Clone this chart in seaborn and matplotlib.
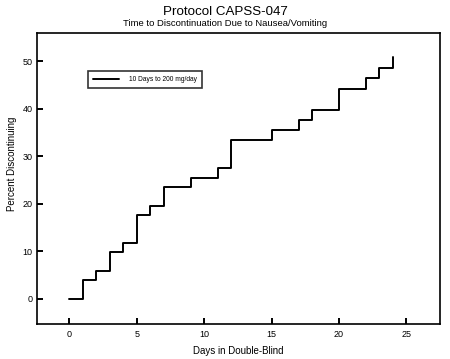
import matplotlib
matplotlib.use("Agg")
import matplotlib.pyplot as plt
import numpy as np
import pandas as pd
import seaborn as sns

# step data
days = [0, 1, 2, 3, 4, 5, 6, 7, 9, 11, 12, 15, 17, 18, 20, 22, 23, 24]
pct = [0, 3.9, 5.9, 9.8, 11.8, 17.6, 19.6, 23.5, 25.5, 27.5, 33.4, 35.5,
       37.6, 39.8, 44.2, 46.4, 48.6, 50.8]
series_name = "10 Days to 200 mg/day"

df = pd.DataFrame({"day": days, "pct": pct, "group": series_name})

sns.set_style("ticks")
plt.rcParams["font.family"] = ["Liberation Sans", "DejaVu Sans"]
plt.rcParams["text.color"] = "black"
plt.rcParams["axes.labelcolor"] = "black"

fig = plt.figure(figsize=(4.5, 3.59), dpi=100)
ax = fig.add_axes([0.082, 0.097, 0.896, 0.811])

sns.lineplot(data=df, x="day", y="pct", hue="group", palette=["black"],
             drawstyle="steps-post", linewidth=1.4, ax=ax)

ax.set_xlim(-2.4, 27.5)
ax.set_ylim(-5.3, 55.9)
ax.set_xticks([0, 5, 10, 15, 20, 25])
ax.set_yticks([0, 10, 20, 30, 40, 50])
ax.tick_params(axis="both", which="major", direction="in", length=4.5,
               width=1.4, labelsize=6.5, color="black", labelcolor="black")
ax.tick_params(axis="y", pad=3)
ax.tick_params(axis="x", pad=4)
for s in ax.spines.values():
    s.set_visible(True)
    s.set_linewidth(1.2)
    s.set_color("black")

ax.set_xlabel("Days in Double-Blind", fontsize=7)
ax.set_ylabel("Percent Discontinuing", fontsize=7)
ax.xaxis.set_label_coords(0.5, -0.075)
ax.yaxis.set_label_coords(-0.05, 0.55)

fig.text(0.5, 0.966, "Protocol CAPSS-047", ha="center", va="center", fontsize=9.6)
fig.text(0.5, 0.935, "Time to Discontinuation Due to Nausea/Vomiting",
         ha="center", va="center", fontsize=6.8)

leg = ax.legend(loc="upper left", bbox_to_anchor=(0.127, 0.868), fontsize=4.8,
                frameon=True, fancybox=False, handlelength=4.0, borderpad=0.7,
                handletextpad=1.5, borderaxespad=0)
leg.get_frame().set_edgecolor("black")
leg.get_frame().set_linewidth(1.2)

fig.savefig("out.png", dpi=100)
